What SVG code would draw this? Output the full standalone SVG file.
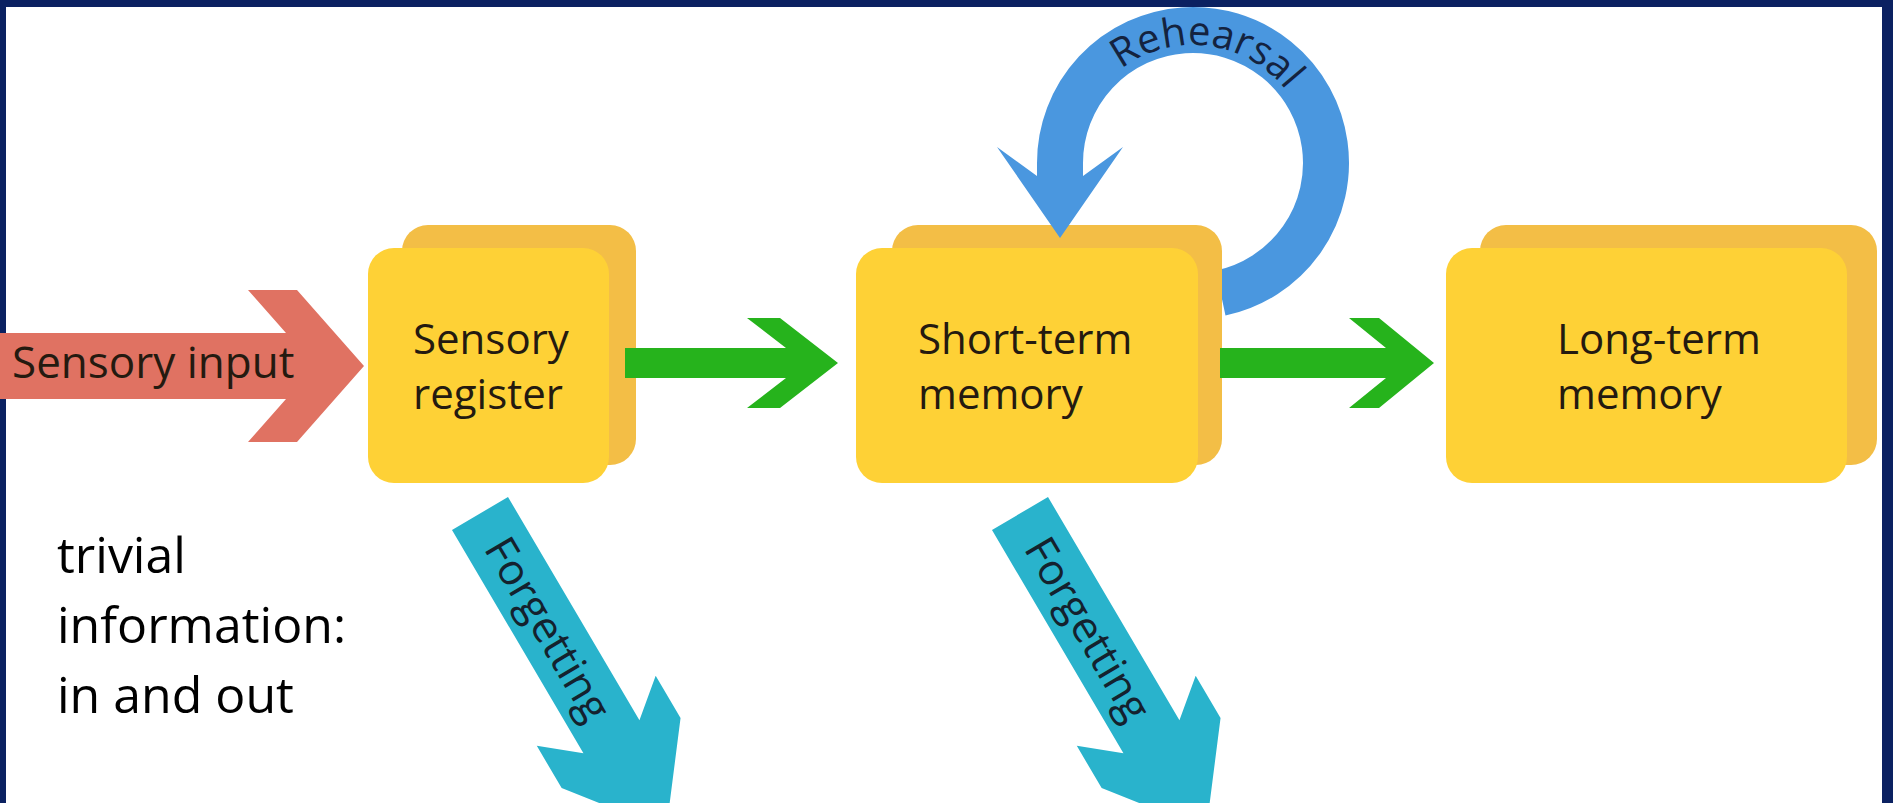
<svg xmlns="http://www.w3.org/2000/svg" width="1893" height="803" viewBox="0 0 1893 803">
  <style>
    .back { fill: #f3be46; }
    .front { fill: #fed136; }
    .lbl { font-family: "Open Sans", "Noto Sans", sans-serif; font-size: 42px; fill: #241a10; }
    .note { font-family: "Open Sans", "Noto Sans", sans-serif; font-size: 50px; fill: #000000; }
    .green { fill: #26b31c; }
    .forget { fill: #29b3cc; }
    .forget-text { font-family: "Open Sans", "Noto Sans", sans-serif; font-size: 43px; fill: #14222e; }
  </style>
  <defs>
    <path id="rehearsal-path" d="M 1075 163 A 118 118 0 0 1 1311 163"/>
    <polygon id="forget-shape" points="0,-32.5 259,-32.5 229,-69 278,-69 367,0 278,69 229,69 259,32.5 0,32.5"/>
  </defs>

  <!-- frame -->
  <rect x="0" y="0" width="1893" height="803" fill="#0b2161"/>
  <rect x="6" y="7" width="1876" height="800" fill="#ffffff"/>

  <!-- rehearsal loop arc (behind the short-term node) -->
  <g id="rehearsal-arc">
    <path d="M 1060 182 L 1060 163 A 133 133 0 1 1 1220.7 293.1" fill="none" stroke="#4a97df" stroke-width="46"/>
  </g>

  <!-- nodes -->
  <g id="sensory-register">
    <rect class="back" x="402" y="225" width="234" height="240" rx="26"/>
    <rect class="front" x="368" y="248" width="241" height="235" rx="26"/>
    <text class="lbl" x="413" y="354">Sensory</text>
    <text class="lbl" x="413" y="409">register</text>
  </g>
  <g id="short-term-memory">
    <rect class="back" x="892" y="225" width="330" height="240" rx="26"/>
    <rect class="front" x="856" y="248" width="342" height="235" rx="26"/>
    <text class="lbl" x="918" y="354">Short-term</text>
    <text class="lbl" x="918" y="409">memory</text>
  </g>
  <g id="long-term-memory">
    <rect class="back" x="1480" y="225" width="397" height="240" rx="26"/>
    <rect class="front" x="1446" y="248" width="401" height="235" rx="26"/>
    <text class="lbl" x="1557" y="354">Long-term</text>
    <text class="lbl" x="1557" y="409">memory</text>
  </g>
  <g id="note">
    <text class="note" x="57" y="573">trivial</text>
    <text class="note" x="57" y="643">information:</text>
    <text class="note" x="57" y="713">in and out</text>
  </g>

  <!-- connectors -->
  <g id="connectors">
    <g id="sensory-input">
      <polygon points="0,333 286,333 248,290 297,290 364,366 297,442 248,442 286,399 0,399" fill="#e07262"/>
      <text class="lbl" x="12" y="378" style="font-size:44px" fill="#2a1410">Sensory input</text>
    </g>
    <polygon id="sr-to-stm" class="green" points="625,348 786,348 747,318 780,318 838,363 780,408 747,408 786,378 625,378"/>
    <polygon id="stm-to-ltm" class="green" points="1220,348 1386,348 1349,318 1379,318 1434,363 1379,408 1349,408 1386,378 1220,378"/>
    <g id="rehearsal">
      <polygon points="997,147 1037,176 1083,176 1123,147 1060,238" fill="#4a97df"/>
      <text font-family="Open Sans, Noto Sans, sans-serif" font-size="40" fill="#14233f" text-anchor="middle">
        <textPath href="#rehearsal-path" startOffset="54%">Rehearsal</textPath>
      </text>
    </g>
    <g id="forgetting-1" transform="translate(480,513.5) rotate(59.5)">
      <use href="#forget-shape" class="forget"/>
      <text class="forget-text" x="134" y="15" text-anchor="middle">Forgetting</text>
    </g>
    <g id="forgetting-2" transform="translate(1020,513.5) rotate(59.5)">
      <use href="#forget-shape" class="forget"/>
      <text class="forget-text" x="134" y="15" text-anchor="middle">Forgetting</text>
    </g>
  </g>
</svg>
